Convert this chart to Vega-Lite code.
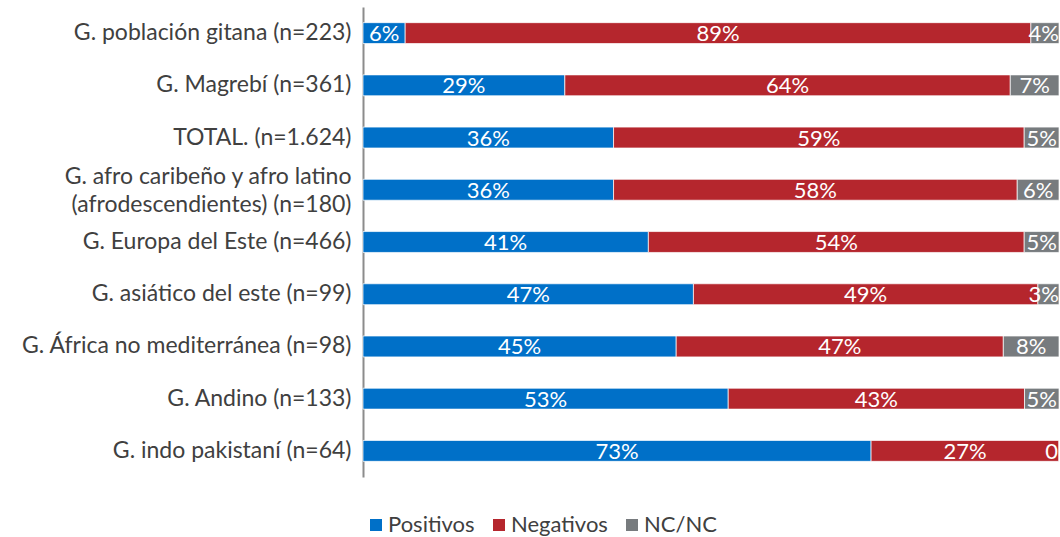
{
  "$schema": "https://vega.github.io/schema/vega-lite/v6.json",
  "width": 696,
  "height": 470,
  "autosize": {"type": "none"},
  "padding": {"left": 363, "top": 7, "right": 1, "bottom": 60},
  "background": "white",
  "config": {
    "view": {"stroke": null},
    "font": "Lato"
  },
  "data": {
    "values": [
      {"grupo": "G. población gitana (n=223)", "tipo": "Positivos", "ord": 1, "valor": 6},
      {"grupo": "G. población gitana (n=223)", "tipo": "Negativos", "ord": 2, "valor": 89},
      {"grupo": "G. población gitana (n=223)", "tipo": "NC/NC", "ord": 3, "valor": 4},
      {"grupo": "G. Magrebí (n=361)", "tipo": "Positivos", "ord": 1, "valor": 29},
      {"grupo": "G. Magrebí (n=361)", "tipo": "Negativos", "ord": 2, "valor": 64},
      {"grupo": "G. Magrebí (n=361)", "tipo": "NC/NC", "ord": 3, "valor": 7},
      {"grupo": "TOTAL. (n=1.624)", "tipo": "Positivos", "ord": 1, "valor": 36},
      {"grupo": "TOTAL. (n=1.624)", "tipo": "Negativos", "ord": 2, "valor": 59},
      {"grupo": "TOTAL. (n=1.624)", "tipo": "NC/NC", "ord": 3, "valor": 5},
      {"grupo": "G. afro caribeño y afro latino|(afrodescendientes) (n=180)", "tipo": "Positivos", "ord": 1, "valor": 36},
      {"grupo": "G. afro caribeño y afro latino|(afrodescendientes) (n=180)", "tipo": "Negativos", "ord": 2, "valor": 58},
      {"grupo": "G. afro caribeño y afro latino|(afrodescendientes) (n=180)", "tipo": "NC/NC", "ord": 3, "valor": 6},
      {"grupo": "G. Europa del Este (n=466)", "tipo": "Positivos", "ord": 1, "valor": 41},
      {"grupo": "G. Europa del Este (n=466)", "tipo": "Negativos", "ord": 2, "valor": 54},
      {"grupo": "G. Europa del Este (n=466)", "tipo": "NC/NC", "ord": 3, "valor": 5},
      {"grupo": "G. asiático del este (n=99)", "tipo": "Positivos", "ord": 1, "valor": 47},
      {"grupo": "G. asiático del este (n=99)", "tipo": "Negativos", "ord": 2, "valor": 49},
      {"grupo": "G. asiático del este (n=99)", "tipo": "NC/NC", "ord": 3, "valor": 3},
      {"grupo": "G. África no mediterránea (n=98)", "tipo": "Positivos", "ord": 1, "valor": 45},
      {"grupo": "G. África no mediterránea (n=98)", "tipo": "Negativos", "ord": 2, "valor": 47},
      {"grupo": "G. África no mediterránea (n=98)", "tipo": "NC/NC", "ord": 3, "valor": 8},
      {"grupo": "G. Andino (n=133)", "tipo": "Positivos", "ord": 1, "valor": 53},
      {"grupo": "G. Andino (n=133)", "tipo": "Negativos", "ord": 2, "valor": 43},
      {"grupo": "G. Andino (n=133)", "tipo": "NC/NC", "ord": 3, "valor": 5},
      {"grupo": "G. indo pakistaní (n=64)", "tipo": "Positivos", "ord": 1, "valor": 73},
      {"grupo": "G. indo pakistaní (n=64)", "tipo": "Negativos", "ord": 2, "valor": 27},
      {"grupo": "G. indo pakistaní (n=64)", "tipo": "NC/NC", "ord": 3, "valor": 0}
    ]
  },
  "transform": [
    {"stack": "valor", "groupby": ["grupo"], "sort": [{"field": "ord", "order": "ascending"}], "offset": "normalize", "as": ["inicio", "fin"]},
    {"calculate": "min((datum.inicio + datum.fin) / 2, 0.978)", "as": "medio"},
    {"calculate": "datum.valor == 0 ? '0' : datum.valor + '%'", "as": "etiqueta"}
  ],
  "encoding": {
    "y": {
      "field": "grupo",
      "type": "nominal",
      "sort": null,
      "scale": {"paddingInner": 0.6, "paddingOuter": 0.3},
      "axis": {
        "title": null,
        "ticks": false,
        "domainColor": "#8c8c8c",
        "domainWidth": 2,
        "labelPadding": 12,
        "labelFont": "Lato",
        "labelFontSize": 23,
        "labelColor": "#404040",
        "labelLimit": 400,
        "labelLineHeight": 28,
        "labelOffset": {"condition": {"test": "indexof(datum.label, '|') >= 0", "value": -13}, "value": 0},
        "labelExpr": "split(datum.label, '|')"
      }
    }
  },
  "layer": [
    {
      "mark": {"type": "bar", "stroke": "white", "strokeWidth": 1, "strokeOpacity": 0.7},
      "encoding": {
        "x": {"field": "inicio", "type": "quantitative", "scale": {"domain": [0, 1], "nice": false}, "axis": null},
        "x2": {"field": "fin"},
        "color": {
          "field": "tipo",
          "type": "nominal",
          "scale": {"domain": ["Positivos", "Negativos", "NC/NC"], "range": ["#0070c8", "#b5262d", "#777b7e"]},
          "legend": {
            "title": null,
            "orient": "none",
            "direction": "horizontal",
            "legendX": 2,
            "legendY": 507,
            "padding": 0,
            "symbolType": "square",
            "symbolSize": 144,
            "symbolStrokeWidth": 0,
            "labelFont": "Lato",
            "labelFontSize": 22,
            "labelColor": "#404040",
            "labelOffset": 1,
            "columnPadding": 13
          }
        }
      }
    },
    {
      "transform": [{"filter": "datum.valor > 0"}],
      "mark": {"type": "text", "color": "white", "font": "Lato", "fontSize": 22, "align": "center", "baseline": "middle", "dy": 1},
      "encoding": {
        "x": {"field": "medio", "type": "quantitative"},
        "text": {"field": "etiqueta"}
      }
    },
    {
      "transform": [{"filter": "datum.valor == 0"}],
      "mark": {"type": "text", "color": "white", "font": "Lato", "fontSize": 22, "align": "right", "baseline": "middle", "dy": 1, "dx": -1},
      "encoding": {
        "x": {"field": "fin", "type": "quantitative"},
        "text": {"field": "etiqueta"}
      }
    }
  ]
}
